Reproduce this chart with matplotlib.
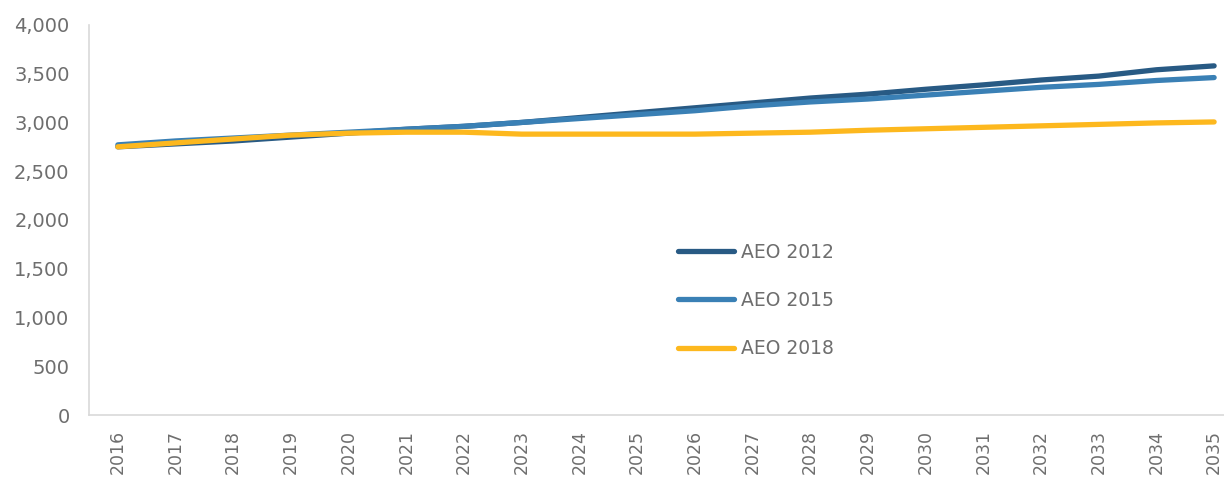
import matplotlib
matplotlib.use("Agg")
import matplotlib.pyplot as plt
from matplotlib.ticker import FuncFormatter

years = [str(y) for y in range(2016, 2036)]
aeo2012 = [2750, 2780, 2810, 2850, 2890, 2930, 2960, 3000, 3050, 3100,
           3150, 3200, 3250, 3290, 3340, 3385, 3435, 3475, 3540, 3580]
aeo2015 = [2770, 2810, 2840, 2870, 2900, 2930, 2960, 3000, 3040, 3080,
           3120, 3170, 3210, 3240, 3280, 3320, 3360, 3390, 3430, 3460]
aeo2018 = [2750, 2790, 2830, 2870, 2890, 2900, 2900, 2880, 2880, 2880,
           2880, 2890, 2900, 2920, 2935, 2950, 2965, 2980, 2995, 3005]

plt.rcParams['font.family'] = ['DejaVu Sans']
txt = '#6E6E6E'

fig = plt.figure(figsize=(12.24, 4.79), dpi=100)
ax = fig.add_axes([0.0727, 0.1336, 1.0155 - 0.0727, 0.948 - 0.1336])

x = list(range(len(years)))
ax.plot(x, aeo2012, color='#285A84', lw=3.8, solid_capstyle='round', label='AEO 2012')
ax.plot(x, aeo2015, color='#3A80B5', lw=3.8, solid_capstyle='round', label='AEO 2015')
ax.plot(x, aeo2018, color='#FDB81E', lw=3.8, solid_capstyle='round', label='AEO 2018')

ax.set_xlim(-0.5, len(years) - 0.5)
ax.set_ylim(0, 4000)
ax.set_yticks(range(0, 4001, 500))
ax.yaxis.set_major_formatter(FuncFormatter(lambda v, p: f"{int(v):,}"))
ax.set_xticks(x)
ax.set_xticklabels(years, rotation=90)
ax.tick_params(axis='both', length=0, colors=txt)
ax.tick_params(axis='y', pad=14, labelsize=14)
ax.tick_params(axis='x', pad=11, labelsize=12.5)

for s in ['top', 'right']:
    ax.spines[s].set_visible(False)
for s in ['left', 'bottom']:
    ax.spines[s].set_color('#D9D9D9')
    ax.spines[s].set_linewidth(1.2)

leg = ax.legend(loc='center left', bbox_to_anchor=(661.5 / 1224, (479 - 300.5) / 479),
                bbox_transform=fig.transFigure,
                frameon=False, fontsize=13.5, handlelength=2.95, handletextpad=0.37,
                labelspacing=1.55)
for t in leg.get_texts():
    t.set_color(txt)

fig.savefig('out.png', dpi=100)
